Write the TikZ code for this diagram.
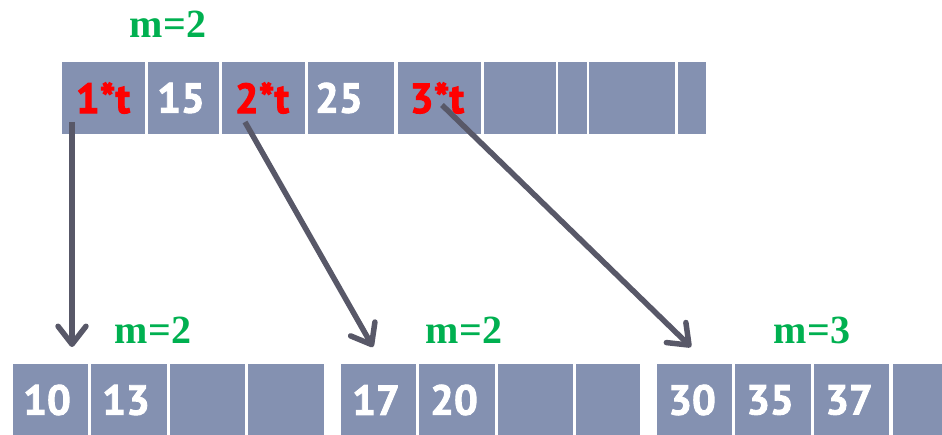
\documentclass[tikz,border=0pt]{standalone}
\usepackage{fontspec}
\setmainfont{Liberation Serif}
\newfontfamily\cellfont[BoldFeatures={FakeBold=2.2}]{PT Sans}
\usetikzlibrary{arrows.meta}
\definecolor{cellblue}{RGB}{132,145,177}
\definecolor{mgreen}{RGB}{0,176,80}
\definecolor{arrowgray}{RGB}{88,88,104}
\newcommand\mkcell[5]{\node[cell,minimum width={#3-#2},minimum height={#5-#4}] (#1) at ({(#2+#3)/2},{(#4+#5)/2}) {};}
\begin{document}
\begin{tikzpicture}[x=1pt,y=-1pt,
  cell/.style={fill=cellblue, draw=none, inner sep=0pt, outer sep=0pt},
  num/.style={text=white, font=\cellfont\bfseries\fontsize{42}{42}\selectfont, inner sep=0pt},
  ptr/.style={text=red, font=\cellfont\bfseries\fontsize{42}{42}\selectfont, inner sep=0pt},
  mlab/.style={text=mgreen, font=\bfseries\fontsize{40}{40}\selectfont, inner sep=0pt},
  link/.style={draw=arrowgray, line width=5.5pt, -{Straight Barb[length=18pt,width=28pt,round]}}]
\useasboundingbox (0,0) rectangle (942,435);
% top row
\mkcell{t1}{62}{145}{62}{134}
\mkcell{t2}{148}{219}{62}{134}
\mkcell{t3}{222}{305}{62}{134}
\mkcell{t4}{308}{394}{62}{134}
\mkcell{t5}{398}{481}{62}{134}
\mkcell{t6}{484}{556}{62}{134}
\mkcell{t7}{558}{587}{62}{134}
\mkcell{t8}{589}{675}{62}{134}
\mkcell{t9}{678}{706}{62}{134}
% bottom rows
\mkcell{a1}{13}{88}{364}{436}
\mkcell{a2}{91}{167}{364}{436}
\mkcell{a3}{170}{245}{364}{436}
\mkcell{a4}{248}{324}{364}{436}
\mkcell{b1}{341}{416}{364}{436}
\mkcell{b2}{419}{495}{364}{436}
\mkcell{b3}{498}{573}{364}{436}
\mkcell{b4}{576}{640}{364}{436}
\mkcell{c1}{657}{732}{364}{436}
\mkcell{c2}{735}{811}{364}{436}
\mkcell{c3}{814}{889}{364}{436}
\mkcell{c4}{893}{943}{364}{436}
% texts
\node[ptr] (p1) at (103,98) {1*t};
\node[num] (n15) at (181,98) {15};
\node[ptr] (p2) at (262,98) {2*t};
\node[num] (n25) at (339,98) {25};
\node[ptr] (p3) at (437,98) {3*t};
\node[num] (n10) at (47,400) {10};
\node[num] (n13) at (126,400) {13};
\node[num] (n17) at (376,400) {17};
\node[num] (n20) at (454,400) {20};
\node[num] (n30) at (692,400) {30};
\node[num] (n35) at (770,400) {35};
\node[num] (n37) at (849,400) {37};
\node[mlab] (mt) at (168,24) {m=2};
\node[mlab] (ma) at (153,330) {m=2};
\node[mlab] (mb) at (464,330) {m=2};
\node[mlab] (mc) at (812,330) {m=3};
% arrows
\coordinate (s1) at (72,122);
\coordinate (e1) at (72,347);
\coordinate (s2) at (245,122);
\coordinate (e2) at (373,347);
\coordinate (s3) at (442,105);
\coordinate (e3) at (691,347);
\draw[link] (s1) -- (e1);
\draw[link] (s2) -- (e2);
\draw[link] (s3) -- (e3);
\end{tikzpicture}
\end{document}
